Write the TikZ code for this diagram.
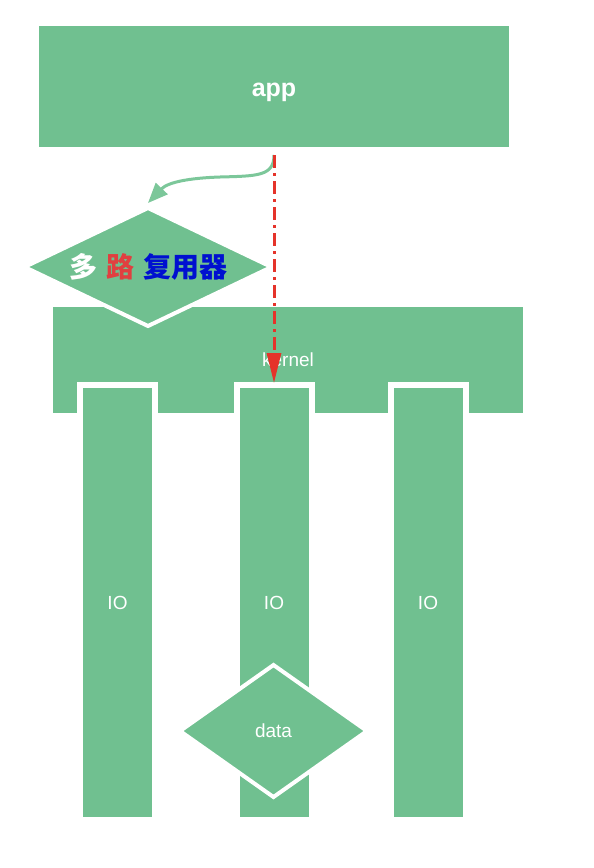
\documentclass[tikz,border=0pt]{standalone}
\usepackage{fontspec}
\setmainfont{Liberation Sans}
\newfontfamily\cjk{Noto Sans CJK SC}
\usetikzlibrary{shapes.geometric,arrows.meta}
\definecolor{gbox}{HTML}{70C090}
\definecolor{gline}{HTML}{7CC79A}
\definecolor{rline}{HTML}{E5332A}
\definecolor{tred}{HTML}{E04040}
\definecolor{tblue}{HTML}{0010D0}
\begin{document}
\begin{tikzpicture}[x=1pt,y=-1pt,
  box/.style={rectangle, fill=gbox, inner sep=0pt, outer sep=0pt, text=white},
  colbox/.style={box, draw=white, line width=6pt, minimum width=75pt, minimum height=435pt, font=\fontsize{19}{20}\selectfont},
  dia/.style={diamond, fill=gbox, draw=white, line width=4pt, inner sep=0pt, outer sep=0pt, text=white},
  regtext/.style={font=\fontsize{19}{20}\selectfont}
]
\useasboundingbox (0,0) rectangle (594,868);
\fill[white] (0,0) rectangle (594,868);
\node[box, minimum width=470pt, minimum height=121pt, text height=20pt, text depth=0pt, font=\bfseries\fontsize{25}{26}\selectfont] (app) at (274,86.5) {app};
\node[box, minimum width=470pt, minimum height=106pt, regtext] (kernel) at (288,360) {kernel};
\node[dia, aspect=2.09, minimum width=247pt, minimum height=118pt, font=\cjk\bfseries\fontsize{28}{29}\selectfont] (mux) at (148,267) {\textcolor{white}{多}\hspace{9pt}\textcolor{tred}{路}\hspace{9pt}\textcolor{tblue}{复用器}};
\node[colbox] (col1) at (117.5,602.5) {IO};
\node[colbox] (col2) at (274,602.5) {IO};
\node[colbox] (col3) at (428,602.5) {IO};
\node[dia, aspect=1.42, minimum width=187pt, minimum height=132pt, regtext] (data) at (273.5,731) {data};
\draw[gline, line width=3pt, -{Triangle[length=20pt,width=16pt]}] ([yshift=-8pt]app.south) .. controls (274,176) and (258,176) .. (220,177) .. controls (190,178) and (168,182) .. ([yshift=5pt]mux.north);
\draw[rline, line width=3pt, dash pattern=on 13pt off 5pt on 3pt off 5pt, -{Triangle[length=30pt,width=14pt]}] ([yshift=-8pt]app.south) -- ([yshift=2pt]col2.north);
\end{tikzpicture}
\end{document}
